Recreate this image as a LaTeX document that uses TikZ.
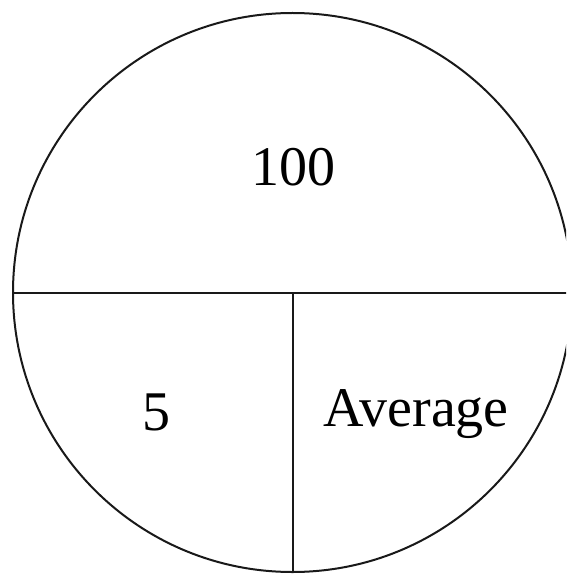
\documentclass[tikz,border=0pt]{standalone}
\usepackage{fontspec}
\setmainfont{Liberation Serif}
\begin{document}
\begin{tikzpicture}[x=1pt,y=-1pt,
  lbl/.style={font=\fontsize{56}{60}\selectfont, inner sep=0pt, anchor=base},
  edge/.style={line width=2pt, draw=black!90}]
\useasboundingbox (0,0) rectangle (566,575);
\clip (0,0) rectangle (566,575);
\node[circle, edge, minimum size=559pt, inner sep=0pt] (c) at (292.5,292.5) {};
\draw[edge] (c.west) -- (c.east);
\draw[edge] (c.center) -- (c.south);
\node[lbl] (top) at (293,185) {100};
\node[lbl] (five) at (156,430) {5};
\node[lbl] (avg) at (416,426) {Average};
\end{tikzpicture}
\end{document}
